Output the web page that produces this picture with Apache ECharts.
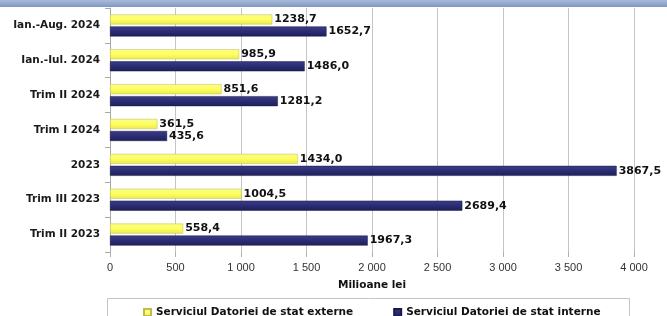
<!DOCTYPE html>
<html>
<head>
<meta charset="utf-8">
<script src="https://cdn.jsdelivr.net/npm/echarts@6/dist/echarts.min.js"></script>
<style>html,body{margin:0;padding:0;background:#fff;}#c{width:667px;height:316px;}</style>
</head>
<body>
<div id="c"></div>
<script>
var categories = ['Ian.-Aug. 2024', 'Ian.-Iul. 2024', 'Trim II 2024', 'Trim I 2024', '2023', 'Trim III 2023', 'Trim II 2023'];
var externe = [1238.7, 985.9, 851.6, 361.5, 1434.0, 1004.5, 558.4];
var interne = [1652.7, 1486.0, 1281.2, 435.6, 3867.5, 2689.4, 1967.3];
var seriesNames = ['Serviciul Datoriei de stat externe', 'Serviciul Datoriei de stat interne'];
var axisName = 'Milioane lei';

function fmtVal(v) { return v.toFixed(1).replace('.', ','); }
function fmtTick(v) { return v >= 1000 ? Math.floor(v / 1000) + ' ' + String(v % 1000).padStart(3, '0') : String(v); }

var chart = echarts.init(document.getElementById('c'), null, {renderer: 'canvas'});
var labelStyle = {
  show: true, position: 'right', distance: 2,
  color: '#111', fontFamily: 'DejaVu Sans', fontWeight: 'bold', fontSize: 11,
  formatter: function (p) { return fmtVal(p.value); }
};
chart.setOption({
  animation: false,
  backgroundColor: '#fff',
  grid: {left: 110, right: 33, top: 8, bottom: 64},
  graphic: [
    {type: 'rect', shape: {x: 0, y: 0, width: 667, height: 7},
     style: {fill: new echarts.graphic.LinearGradient(0, 0, 0, 1, [{offset: 0, color: '#a9bcdc'}, {offset: 1, color: '#7f97c0'}])}},
    {type: 'rect', shape: {x: 107.5, y: 298.5, width: 522, height: 22},
     style: {fill: 'none', stroke: '#c4c4c4', lineWidth: 1}}
  ],
  legend: {
    left: 138, top: 302,
    itemWidth: 7, itemHeight: 7, itemGap: 40,
    icon: 'rect',
    textStyle: {fontFamily: 'DejaVu Sans', fontWeight: 'bold', fontSize: 10.5, color: '#111'},
    data: seriesNames
  },
  xAxis: {
    type: 'value', min: 0, max: 4000, interval: 500,
    name: axisName, nameLocation: 'middle', nameGap: 28,
    nameTextStyle: {fontFamily: 'DejaVu Sans', fontWeight: 'bold', fontSize: 10.5, color: '#111'},
    axisLine: {show: false},
    axisTick: {show: true, length: 5, lineStyle: {color: '#b0b0b0'}},
    axisLabel: {margin: 10, fontFamily: 'Liberation Sans', fontSize: 11, color: '#333', formatter: fmtTick},
    splitLine: {show: true, lineStyle: {color: '#c4c4c4', width: 1}}
  },
  yAxis: {
    type: 'category', inverse: true, data: categories,
    axisLine: {show: true, lineStyle: {color: '#a8a8a8'}},
    axisTick: {show: true, length: 5, lineStyle: {color: '#a8a8a8'}},
    axisLabel: {margin: 10, fontFamily: 'DejaVu Sans', fontWeight: 'bold', fontSize: 10.5, color: '#1a1a1a'}
  },
  series: [
    {name: seriesNames[0], type: 'bar', data: externe, barWidth: 10, barGap: '20%',
     itemStyle: {color: new echarts.graphic.LinearGradient(0, 0, 0, 1, [{offset: 0, color: '#fbfb8a'}, {offset: 0.5, color: '#ffff5e'}, {offset: 1, color: '#e9e955'}]), borderColor: '#bdbd55', borderWidth: 0.5},
     label: labelStyle},
    {name: seriesNames[1], type: 'bar', data: interne, barWidth: 10, barGap: '20%',
     itemStyle: {color: new echarts.graphic.LinearGradient(0, 0, 0, 1, [{offset: 0, color: '#3b3d85'}, {offset: 0.5, color: '#2a2c74'}, {offset: 1, color: '#1e1f58'}]), borderColor: '#1a1a4a', borderWidth: 0.5},
     label: labelStyle}
  ]
});
</script>
</body>
</html>
